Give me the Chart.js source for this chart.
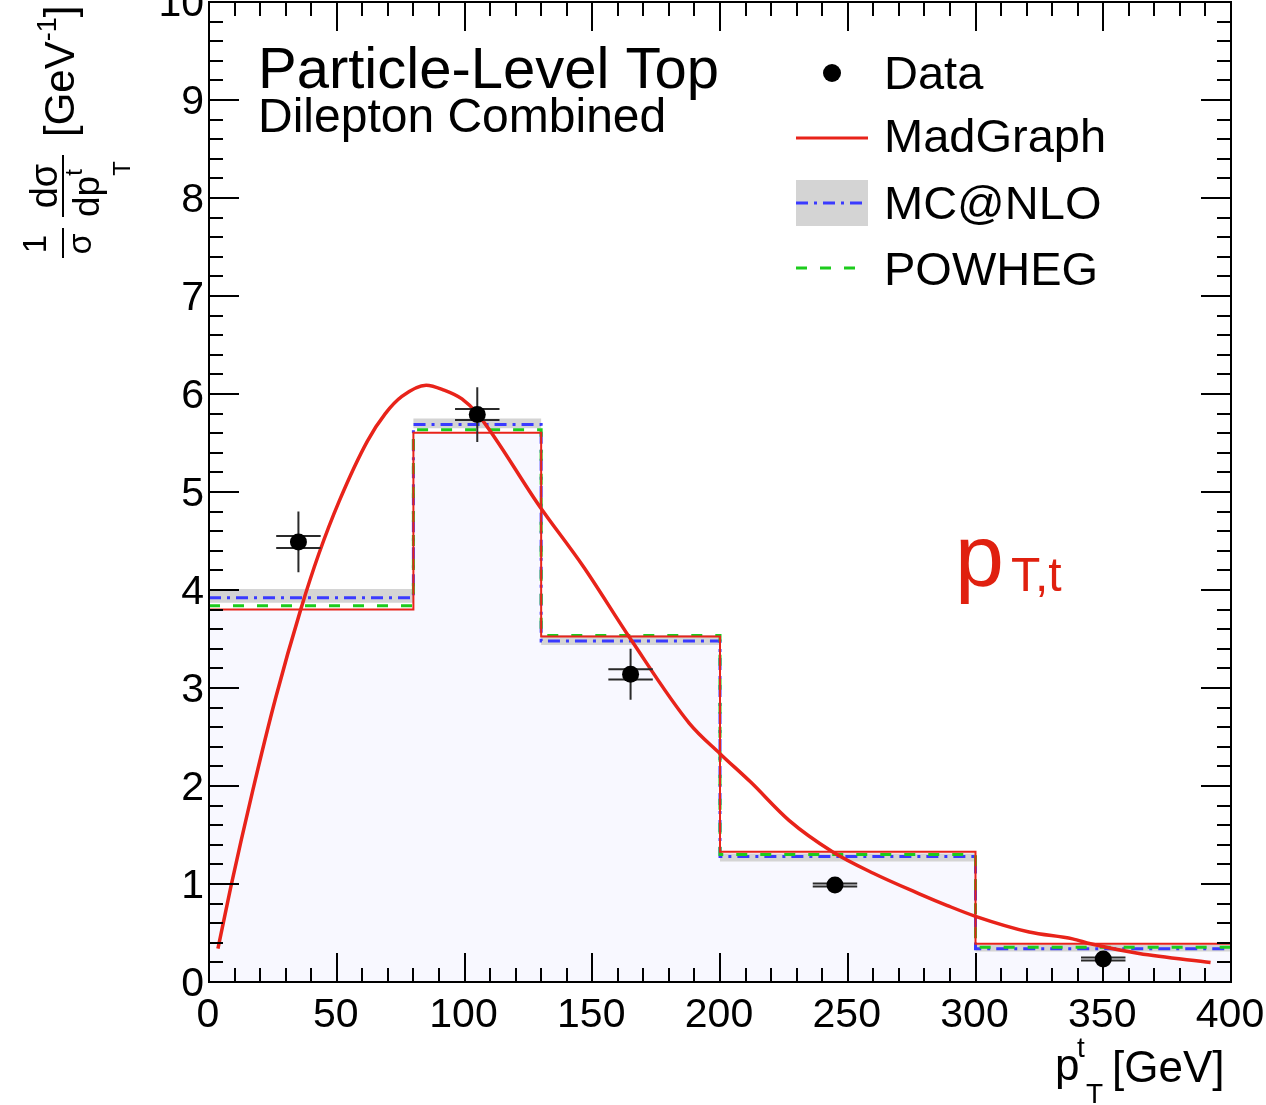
<!DOCTYPE html>
<html>
<head>
<meta charset="utf-8">
<script src="https://cdn.jsdelivr.net/npm/chart.js@4.4.1/dist/chart.umd.min.js"></script>
<style>
html, body { margin: 0; padding: 0; background: #fff; }
canvas { display: block; }
</style>
</head>
<body>
<canvas id="chart" width="1266" height="1105"></canvas>
<script>
// bin edges of the top pT histograms [GeV]
const binEdges = [0, 80, 130, 200, 300, 400];
const madgraphHist = [3.80, 5.605, 3.525, 1.33, 0.39];
const mcatnloHist = [3.92, 5.69, 3.48, 1.28, 0.34];
const mcatnloLow = [3.87, 5.65, 3.44, 1.23, 0.31];
const mcatnloHigh = [4.01, 5.75, 3.54, 1.31, 0.38];
const powhegHist = [3.84, 5.635, 3.535, 1.30, 0.355];

// smooth MadGraph curve
const madgraphX = [3.5, 8.5, 17, 26, 36, 43, 51, 62, 69, 75.5, 85, 92, 99, 105, 129.5, 146.5, 165, 188, 200, 212, 227, 244, 260, 278, 289, 300, 321, 338, 345, 364, 392];
const madgraphY = [0.34, 0.965, 1.94, 2.89, 3.81, 4.37, 4.91, 5.52, 5.80, 5.975, 6.09, 6.04, 5.95, 5.80, 4.85, 4.24, 3.50, 2.64, 2.33, 2.04, 1.65, 1.33, 1.11, 0.90, 0.78, 0.67, 0.51, 0.44, 0.39, 0.29, 0.20];

// measured points
const dataX = [35, 105, 165, 245, 350];
const dataY = [4.49, 5.79, 3.14, 0.99, 0.235];
const dataXErr = [8.7, 8.7, 8.7, 8.7, 8.7];
const dataYErr = [0.31, 0.28, 0.26, 0.05, 0.04];

const xTicks = [0, 50, 100, 150, 200, 250, 300, 350, 400];
const yTicks = [0, 1, 2, 3, 4, 5, 6, 7, 8, 9, 10];
const legendLabels = ['Data', 'MadGraph', 'MC@NLO', 'POWHEG'];

const FAM = "'Liberation Sans', Arial, Helvetica, sans-serif";
const f = px => px + 'px ' + FAM;

const RED = '#e8231a';
const BLUE = '#3a3aff';
const GREEN = '#1ccc1c';
const GRAY = '#d4d4d4';
const FILL = '#f8f8ff';

function steps(vals) { // histogram -> stepped points
    const pts = vals.map((v, i) => ({x: binEdges[i], y: v}));
    pts.push({x: binEdges[binEdges.length - 1], y: vals[vals.length - 1]});
    return pts;
}

const rootStyle = {
    id: 'rootStyle',
    beforeDatasetDraw(chart, args) {
        if (args.meta.label !== 'Data') return;
        const ctx = chart.ctx, xs = chart.scales.x, ys = chart.scales.y;
        ctx.save();
        ctx.strokeStyle = '#2a2a2a';
        ctx.lineWidth = 2;
        for (let i = 0; i < dataX.length; i++) {
            const px = xs.getPixelForValue(dataX[i]);
            const py = ys.getPixelForValue(dataY[i]);
            const x1 = xs.getPixelForValue(dataX[i] - dataXErr[i]);
            const x2 = xs.getPixelForValue(dataX[i] + dataXErr[i]);
            const y1 = ys.getPixelForValue(dataY[i] + dataYErr[i]);
            const y2 = ys.getPixelForValue(dataY[i] - dataYErr[i]);
            const off = Math.max(1.5, Math.min(6, (y2 - y1) * 0.1));
            ctx.beginPath();
            ctx.moveTo(px, y1); ctx.lineTo(px, y2);
            ctx.moveTo(x1, py - off); ctx.lineTo(x2, py - off);
            ctx.moveTo(x1, py + off); ctx.lineTo(x2, py + off);
            ctx.stroke();
        }
        ctx.restore();
    },
    afterDatasetsDraw(chart) {
        const ctx = chart.ctx, a = chart.chartArea, xs = chart.scales.x, ys = chart.scales.y;
        ctx.save();
        ctx.strokeStyle = '#000';
        ctx.lineWidth = 2;
        ctx.beginPath();
        for (let v = 0; v <= 400; v += 10) {
            const px = Math.round(xs.getPixelForValue(v));
            const len = v % 50 === 0 ? 29 : 14;
            ctx.moveTo(px, a.bottom); ctx.lineTo(px, a.bottom - len);
            ctx.moveTo(px, a.top); ctx.lineTo(px, a.top + len);
        }
        for (let k = 0; k <= 50; k++) {
            const py = Math.round(ys.getPixelForValue(k * 0.2));
            const len = k % 5 === 0 ? 30 : 14;
            ctx.moveTo(a.left, py); ctx.lineTo(a.left + len, py);
            ctx.moveTo(a.right, py); ctx.lineTo(a.right - len, py);
        }
        ctx.stroke();
        ctx.strokeRect(a.left, a.top, a.right - a.left, a.bottom - a.top);
        ctx.restore();
    },
    afterDraw(chart) {
        const ctx = chart.ctx, xs = chart.scales.x, ys = chart.scales.y;
        ctx.save();
        ctx.fillStyle = '#000';
        // tick labels
        ctx.font = f(41);
        ctx.textAlign = 'center';
        ctx.textBaseline = 'alphabetic';
        xTicks.forEach(v => ctx.fillText(String(v), xs.getPixelForValue(v) - 1, 1027));
        ctx.textAlign = 'right';
        yTicks.forEach(v => ctx.fillText(String(v), 204, ys.getPixelForValue(v) + 14));

        // titles
        ctx.textAlign = 'left';
        ctx.font = f(58);
        ctx.fillText('Particle-Level Top', 258, 88);
        ctx.font = f(48);
        ctx.fillText('Dilepton Combined', 258, 132);

        // legend
        ctx.font = f(47);
        const baselines = [89, 152, 219, 285];
        legendLabels.forEach((t, i) => ctx.fillText(t, 884, baselines[i]));
        ctx.beginPath();
        ctx.arc(832, 73, 9, 0, Math.PI * 2);
        ctx.fill();
        ctx.lineWidth = 3;
        ctx.strokeStyle = RED;
        ctx.beginPath(); ctx.moveTo(796, 138); ctx.lineTo(868, 138); ctx.stroke();
        ctx.fillStyle = GRAY;
        ctx.fillRect(796, 180, 72, 46);
        ctx.strokeStyle = BLUE;
        ctx.setLineDash([12, 6, 3, 6]);
        ctx.beginPath(); ctx.moveTo(796, 203); ctx.lineTo(868, 203); ctx.stroke();
        ctx.strokeStyle = GREEN;
        ctx.setLineDash([11, 13]);
        ctx.beginPath(); ctx.moveTo(796, 268); ctx.lineTo(860, 268); ctx.stroke();
        ctx.setLineDash([]);

        // observable label
        ctx.fillStyle = '#e0200f';
        ctx.font = f(88);
        ctx.fillText('p', 955, 586);
        ctx.font = f(48);
        ctx.fillText('T,t', 1011, 591);

        // x axis title
        ctx.fillStyle = '#000';
        ctx.font = f(44);
        ctx.fillText('p', 1055, 1080);
        ctx.font = f(28);
        ctx.fillText('t', 1077, 1057);
        ctx.fillText('T', 1086, 1103);
        ctx.font = f(44);
        ctx.fillText('[GeV]', 1112, 1082);

        // y axis title (rotated, reading upwards)
        ctx.rotate(-Math.PI / 2);
        const put = (txt, px, yStart, xBase) => { ctx.font = f(px); ctx.fillText(txt, -yStart, xBase); return ctx.measureText(txt).width; };
        ctx.textAlign = 'center';
        put('1', 33, 244, 46);
        put('\u03c3', 34, 244, 91);
        put('d\u03c3', 38, 186, 57);
        ctx.textAlign = 'left';
        const w = put('dp', 37, 217, 99);
        put('t', 24, 217 - w, 82);
        put('T', 24, 217 - w, 130);
        let w2 = put('[GeV', 42, 137, 74);
        const w3 = put('-1', 27, 137 - w2, 56);
        put(']', 42, 137 - w2 - w3, 74);
        ctx.setTransform(1, 0, 0, 1, 0, 0);
        ctx.fillRect(62, 228, 2, 30);
        ctx.fillRect(62, 155, 2, 62);
        ctx.restore();
    }
};

Chart.defaults.font.family = FAM;

const ctx = document.getElementById('chart').getContext('2d');
const chart = new Chart(ctx, {
    type: 'line',
    data: {
        datasets: [
            {
                label: 'Data', type: 'scatter', order: 0,
                data: dataX.map((x, i) => ({x: x, y: dataY[i]})),
                pointRadius: 8.5, pointBackgroundColor: '#000', pointBorderWidth: 0, showLine: false
            },
            {
                label: 'MadGraph curve', order: 1,
                data: madgraphX.map((x, i) => ({x: x, y: madgraphY[i]})),
                borderColor: RED, borderWidth: 3.5, cubicInterpolationMode: 'monotone',
                pointRadius: 0, fill: false
            },
            {
                label: 'MadGraph', order: 2, data: steps(madgraphHist), stepped: true,
                borderColor: RED, borderWidth: 2, pointRadius: 0, fill: false
            },
            {
                label: 'POWHEG', order: 3, data: steps(powhegHist), stepped: true,
                borderColor: GREEN, borderWidth: 3, borderDash: [11, 13], pointRadius: 0, fill: false
            },
            {
                label: 'MC@NLO', order: 4, data: steps(mcatnloHist), stepped: true,
                borderColor: BLUE, borderWidth: 3, borderDash: [12, 6, 3, 6], pointRadius: 0, fill: false
            },
            {
                label: 'MC@NLO up', order: 5, data: steps(mcatnloHigh), stepped: true,
                borderWidth: 0, pointRadius: 0, backgroundColor: GRAY, fill: '+1'
            },
            {
                label: 'MC@NLO down', order: 6, data: steps(mcatnloLow), stepped: true,
                borderWidth: 0, pointRadius: 0, fill: false
            },
            {
                label: 'MadGraph fill', order: 7, data: steps(madgraphHist), stepped: true,
                borderWidth: 0, pointRadius: 0, backgroundColor: FILL, fill: 'origin'
            }
        ]
    },
    options: {
        responsive: false,
        animation: false,
        devicePixelRatio: 1,
        layout: {autoPadding: false, padding: {left: 209, right: 35, top: 2, bottom: 123}},
        plugins: {legend: {display: false}, tooltip: {enabled: false}},
        scales: {
            x: {type: 'linear', min: 0, max: 400, display: false},
            y: {type: 'linear', min: 0, max: 10, display: false}
        }
    },
    plugins: [rootStyle]
});
</script>
</body>
</html>
